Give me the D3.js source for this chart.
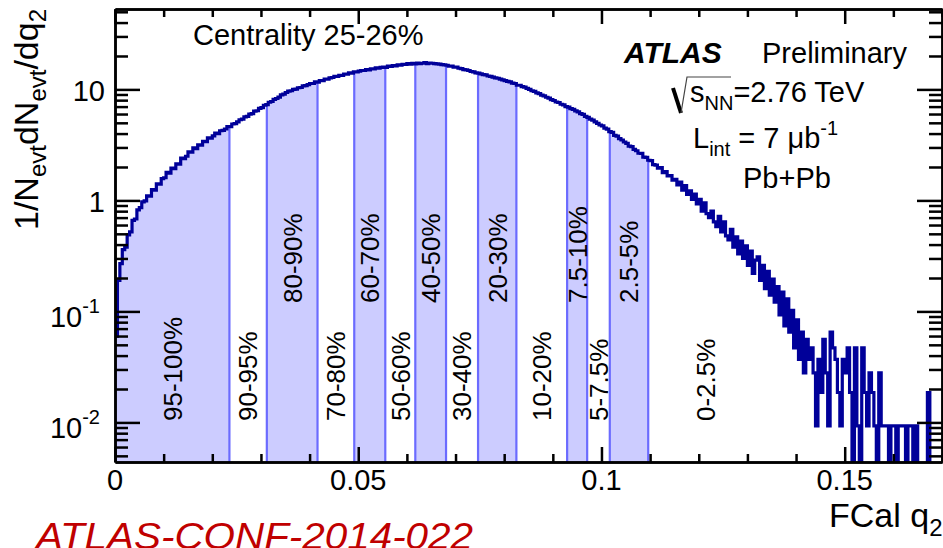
<!DOCTYPE html>
<html>
<head>
<meta charset="utf-8">
<script src="https://cdn.jsdelivr.net/npm/d3@7"></script>
<style>
html, body { margin: 0; padding: 0; background: #fff; }
svg text { font-family: "Liberation Sans", Arial, Helvetica, sans-serif; }
</style>
</head>
<body>
<div id="chart"></div>
<script>
/** FCal q2 distribution, centrality 25-26% */

// histogram: bin width and 1/N dN/dq2 per bin
var binWidth = 0.0005;
var density = [
  0.06, 0.19, 0.27, 0.36, 0.38, 0.49, 0.52, 0.66, 0.68, 0.82,
  0.86, 0.97, 0.99, 1.10, 1.09, 1.25, 1.24, 1.41, 1.40, 1.57,
  1.60, 1.79, 1.76, 1.95, 1.93, 2.14, 2.12, 2.40, 2.38, 2.50,
  2.74, 2.72, 2.98, 2.93, 3.16, 3.15, 3.40, 3.38, 3.66, 3.64,
  3.82, 4.04, 4.00, 4.24, 4.27, 4.40, 4.63, 4.62, 4.88, 4.92,
  5.10, 5.33, 5.40, 5.66, 5.72, 6.00, 6.05, 6.36, 6.42, 6.75,
  6.85, 7.20, 7.30, 7.66, 7.78, 8.12, 8.28, 8.52, 8.92, 9.05,
  9.38, 9.66, 9.72, 10.0, 10.05, 10.35, 10.4, 10.75, 10.8, 11.05,
  11.3, 11.3, 11.7, 11.6, 12.0, 12.0, 12.4, 12.4, 12.7, 12.8,
  13.1, 13.1, 13.4, 13.4, 13.7, 13.7, 14.1, 14.0, 14.4, 14.4,
  14.6, 14.8, 14.8, 15.1, 15.0, 15.3, 15.3, 15.6, 15.5, 15.8,
  15.9, 15.8, 16.2, 16.1, 16.4, 16.3, 16.6, 16.5, 16.8, 16.8,
  17.1, 16.9, 17.2, 17.0, 17.3, 17.1, 17.2, 17.4, 17.1, 17.3,
  17.2, 17.1, 17.0, 16.9, 16.7, 16.6, 16.5, 16.2, 16.2, 15.9,
  15.9, 15.5, 15.4, 15.1, 15.0, 14.8, 14.5, 14.4, 14.1, 14.0,
  13.8, 13.6, 13.5, 13.2, 13.1, 12.9, 12.7, 12.6, 12.4, 12.2,
  12.0, 11.8, 11.7, 11.4, 11.3, 10.9, 10.9, 10.6, 10.5, 10.2,
  10.0, 9.72, 9.60, 9.30, 9.15, 8.88, 8.75, 8.50, 8.35, 8.10,
  7.94, 7.70, 7.62, 7.35, 7.25, 7.00, 6.92, 6.70, 6.62, 6.40,
  6.28, 6.05, 5.95, 5.72, 5.60, 5.40, 5.28, 5.10, 4.95, 4.78,
  4.70, 4.48, 4.38, 4.16, 4.10, 3.86, 3.80, 3.60, 3.50, 3.36,
  3.26, 3.08, 3.05, 2.88, 2.80, 2.66, 2.65, 2.45, 2.44, 2.30,
  2.28, 2.10, 2.08, 1.95, 1.98, 1.78, 1.82, 1.66, 1.67, 1.52,
  1.55, 1.38, 1.46, 1.24, 1.36, 1.13, 1.22, 1.02, 1.14, 0.93,
  1.02, 0.80, 0.95, 0.76, 0.70, 0.80, 0.64, 0.58, 0.72, 0.52,
  0.64, 0.48, 0.44, 0.55, 0.38, 0.47, 0.33, 0.43, 0.30, 0.39,
  0.26, 0.35, 0.22, 0.29, 0.31, 0.19, 0.26, 0.16, 0.23, 0.14,
  0.195, 0.121, 0.167, 0.093, 0.149, 0.074, 0.130, 0.065, 0.102, 0.047,
  0.084, 0.037, 0.065, 0.028, 0.056, 0.037, 0.047, 0.028, 0.0093, 0.037,
  0.0186, 0.056, 0.028, 0.0093, 0.065, 0.047, 0.037, 0.0186, 0.0093, 0.037,
  0.028, 0.047, 0.0186, 0, 0.047, 0.0093, 0, 0.047, 0.0186, 0.0093,
  0.028, 0.0186, 0.0093, 0, 0.028, 0.0093, 0.0093, 0.0093, 0, 0.0093,
  0.0093, 0, 0.0093, 0.0093, 0.0093, 0, 0.0093, 0.0093, 0, 0.0093,
  0, 0, 0, 0, 0.0186, 0, 0, 0, 0, 0
];

// centrality class boundaries in q2 (last one only bounds the 0-2.5% label)
var bandEdges = [0, 0.02352, 0.03121, 0.04163, 0.04918, 0.05556, 0.06173, 0.06805,
                 0.07463, 0.08251, 0.09294, 0.09706, 0.10171, 0.10961, 0.1332];
var bandLabels = ["95-100%", "90-95%", "80-90%", "70-80%", "60-70%", "50-60%", "40-50%",
                  "30-40%", "20-30%", "10-20%", "7.5-10%", "5-7.5%", "2.5-5%", "0-2.5%"];

// axes
var xTicks = [0, 0.05, 0.1, 0.15];
var xTickLabels = ["0", "0.05", "0.1", "0.15"];
var yTicks = [0.01, 0.1, 1, 10];
var yTickLabels = [["10", "-2"], ["10", "-1"], ["1", ""], ["10", ""]];

var W = 943, H = 548;
var plot = { left: 115, right: 942, top: 9, bottom: 462 };

var FILL = "#ccccff", EDGE = "#6b6bff", CURVE = "#000099";

var x = d3.scaleLinear().domain([0, 0.17]).range([plot.left, plot.right]);
var y = d3.scaleLog().domain([0.0044, 53]).range([plot.bottom, plot.top]);

var svg = d3.select("#chart").append("svg")
    .attr("width", W)
    .attr("height", H);

var defs = svg.append("defs");
defs.append("clipPath").attr("id", "plotClip")
  .append("rect")
    .attr("x", plot.left).attr("y", plot.top)
    .attr("width", plot.right - plot.left).attr("height", plot.bottom - plot.top);

var pts = density.map(function(v, i) { return { q: i * binWidth, v: v }; });
pts.push({ q: density.length * binWidth, v: density[density.length - 1] });

var yv = function(v) { return v > 0 ? y(v) : plot.bottom + 4; };

var area = d3.area()
    .curve(d3.curveStepAfter)
    .x(function(d) { return x(d.q); })
    .y0(plot.bottom)
    .y1(function(d) { return Math.min(yv(d.v), plot.bottom); });

var line = d3.line()
    .curve(d3.curveStepAfter)
    .x(function(d) { return x(d.q); })
    .y(function(d) { return yv(d.v); });

// filled centrality bands (every other class)
for (var k = 0; k < bandLabels.length - 1; k += 2) {
    defs.append("clipPath").attr("id", "band" + k)
      .append("rect")
        .attr("x", x(bandEdges[k])).attr("y", plot.top)
        .attr("width", x(bandEdges[k + 1]) - x(bandEdges[k]))
        .attr("height", plot.bottom - plot.top);
    svg.append("path")
        .datum(pts)
        .attr("clip-path", "url(#band" + k + ")")
        .attr("fill", FILL)
        .attr("d", area);
}

// band boundary lines
svg.selectAll(".edge")
    .data(bandEdges.slice(1, bandEdges.length - 1))
    .enter()
    .append("line")
        .attr("class", "edge")
        .attr("x1", function(d) { return x(d); })
        .attr("x2", function(d) { return x(d); })
        .attr("y1", plot.bottom)
        .attr("y2", function(d) { return yv(density[Math.floor(d / binWidth)]); })
        .attr("stroke", EDGE)
        .attr("stroke-width", 2.2);

// histogram
svg.append("path")
    .datum(pts)
    .attr("clip-path", "url(#plotClip)")
    .attr("fill", "none")
    .attr("stroke", CURVE)
    .attr("stroke-width", 3.2)
    .attr("stroke-linejoin", "miter")
    .attr("d", line);

// band labels, rotated
svg.selectAll(".blabel")
    .data(bandLabels)
    .enter()
    .append("text")
        .attr("class", "blabel")
        .attr("transform", function(d, i) {
            var cx = x((bandEdges[i] + bandEdges[i + 1]) / 2);
            var y0 = (i >= 2 && i % 2 === 0) ? 303 : 421;
            return "translate(" + cx + "," + y0 + ") rotate(-90)";
        })
        .attr("dy", "0.36em")
        .attr("font-size", 26)
        .attr("fill", "#000")
        .text(function(d) { return d; });

// axes / frame
var yMinor = [];
[0.001, 0.01, 0.1, 1, 10].forEach(function(dec) {
    for (var m = 2; m <= 9; m++) {
        var t = dec * m;
        if (t > y.domain()[0] && t < y.domain()[1]) yMinor.push(t);
    }
});
var xMinor = d3.range(1, 18).map(function(i) { return i / 100; })
    .filter(function(t) { return t % 0.05 > 1e-9 && 0.05 - (t % 0.05) > 1e-9; });

function styleAxis(g) {
    g.selectAll("path, line").attr("stroke", "#000").attr("stroke-width", 2.5);
    g.selectAll("text").remove();
}

svg.append("g").attr("transform", "translate(" + plot.left + ",0)")
    .call(d3.axisLeft(y).tickValues(yTicks).tickSize(-25).tickSizeOuter(0)).call(styleAxis);
svg.append("g").attr("transform", "translate(" + plot.left + ",0)")
    .call(d3.axisLeft(y).tickValues(yMinor).tickSize(-13).tickSizeOuter(0)).call(styleAxis);
svg.append("g").attr("transform", "translate(" + plot.right + ",0)")
    .call(d3.axisRight(y).tickValues(yTicks).tickSize(-25).tickSizeOuter(0)).call(styleAxis);
svg.append("g").attr("transform", "translate(" + plot.right + ",0)")
    .call(d3.axisRight(y).tickValues(yMinor).tickSize(-13).tickSizeOuter(0)).call(styleAxis);

svg.append("g").attr("transform", "translate(0," + plot.bottom + ")")
    .call(d3.axisBottom(x).tickValues(xTicks).tickSize(-15).tickSizeOuter(0)).call(styleAxis);
svg.append("g").attr("transform", "translate(0," + plot.bottom + ")")
    .call(d3.axisBottom(x).tickValues(xMinor).tickSize(-8).tickSizeOuter(0)).call(styleAxis);
svg.append("g").attr("transform", "translate(0," + plot.top + ")")
    .call(d3.axisTop(x).tickValues(xTicks).tickSize(-15).tickSizeOuter(0)).call(styleAxis);
svg.append("g").attr("transform", "translate(0," + plot.top + ")")
    .call(d3.axisTop(x).tickValues(xMinor).tickSize(-8).tickSizeOuter(0)).call(styleAxis);

// tick labels
yTicks.forEach(function(t, i) {
    var lab = yTickLabels[i];
    var sup = lab[1] !== "";
    var txt = svg.append("text")
        .attr("x", sup ? 100 : 105)
        .attr("y", y(t) + (sup ? 16 : 12))
        .attr("text-anchor", "end")
        .attr("font-size", 29)
        .text(lab[0]);
    if (sup) {
        txt.append("tspan").attr("dy", -14).attr("font-size", 20).text(lab[1]);
    }
});

svg.selectAll(".xlab")
    .data(xTicks)
    .enter()
    .append("text")
        .attr("class", "xlab")
        .attr("x", function(d) { return x(d); })
        .attr("y", 490)
        .attr("text-anchor", "middle")
        .attr("font-size", 29)
        .text(function(d, i) { return xTickLabels[i]; });

// axis titles
var xt = svg.append("text").attr("x", 829).attr("y", 527).attr("font-size", 34).text("FCal q");
xt.append("tspan").attr("dy", 9).attr("font-size", 24).text("2");

var yt = svg.append("text")
    .attr("transform", "translate(38,230) rotate(-90)")
    .attr("font-size", 34);
yt.append("tspan").text("1/N");
yt.append("tspan").attr("dy", 8).attr("font-size", 24).text("evt");
yt.append("tspan").attr("dy", -8).text("dN");
yt.append("tspan").attr("dy", 8).attr("font-size", 24).text("evt");
yt.append("tspan").attr("dy", -8).text("/dq");
yt.append("tspan").attr("dy", 8).attr("font-size", 24).text("2");

// legend texts
svg.append("text").attr("x", 193).attr("y", 45).attr("font-size", 29).text("Centrality 25-26%");

svg.append("text").attr("x", 624).attr("y", 63).attr("font-size", 30)
    .attr("font-weight", "bold").attr("font-style", "italic").text("ATLAS");
svg.append("text").attr("x", 762).attr("y", 63).attr("font-size", 29).text("Preliminary");

svg.append("path").attr("d", "M673,88 L681,113")
    .attr("stroke", "#000").attr("stroke-width", 4).attr("fill", "none");
svg.append("path").attr("d", "M681,113 L687,77 L731,77")
    .attr("stroke", "#444").attr("stroke-width", 1.2).attr("fill", "none");
var sq = svg.append("text").attr("x", 690).attr("y", 102).attr("font-size", 29);
sq.append("tspan").text("s");
sq.append("tspan").attr("dy", 8).attr("font-size", 20).text("NN");
sq.append("tspan").attr("dy", -8).text("=2.76 TeV");

var li = svg.append("text").attr("x", 693).attr("y", 148).attr("font-size", 29);
li.append("tspan").text("L");
li.append("tspan").attr("dy", 8).attr("font-size", 20).text("int");
li.append("tspan").attr("dy", -8).text(" = 7 \u03bcb");
li.append("tspan").attr("dy", -13).attr("font-size", 20).text("-1");

svg.append("text").attr("x", 743).attr("y", 188).attr("font-size", 29).text("Pb+Pb");

// conference note reference (cut by the bottom edge, as in the original slide)
svg.append("text")
    .attr("x", 36).attr("y", 549)
    .attr("font-size", 37)
    .attr("font-style", "italic")
    .attr("fill", "#c00000")
    .attr("textLength", 437)
    .attr("lengthAdjust", "spacingAndGlyphs")
    .text("ATLAS-CONF-2014-022");
</script>
</body>
</html>
